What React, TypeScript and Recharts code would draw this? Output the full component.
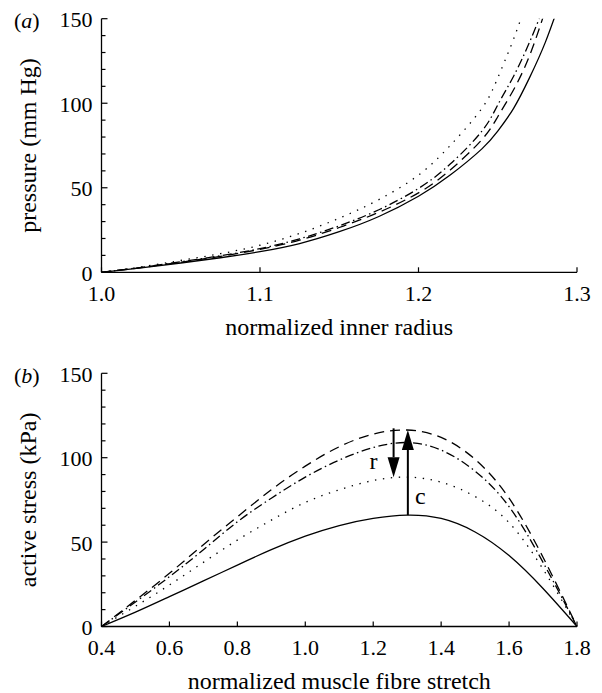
import { LineChart, Line, XAxis, YAxis, ReferenceLine, Label } from "recharts";

const FONT = "'Times New Roman', 'Liberation Serif', Tinos, serif";

// (a) pressure against normalized inner radius
const radius = [1.0, 1.025, 1.05, 1.075, 1.1, 1.125, 1.15, 1.175, 1.2, 1.22, 1.24, 1.25, 1.26, 1.27, 1.28, 1.29];
const pressureSolid = [0, 2.6, 5.5, 8.6, 12.2, 17, 24, 33, 45, 57.5, 73, 83.5, 97, 115, 136, 162];
const pressureDashed = [0, 2.8, 6, 9.4, 13.6, 19, 26.5, 35.5, 47, 60.5, 78.5, 92, 108, 128, 155, 185];
const pressureDashDot = [0, 2.9, 6.2, 9.8, 14, 19.8, 27.5, 37, 49.6, 64, 83.5, 99, 116, 136, 160, 190];
const pressureDotted = [0, 3.2, 7, 11, 16, 23, 32, 43, 57.5, 75, 97, 115, 138, 165, 195, 230];
const radiusTicks = [1.0, 1.1, 1.2, 1.3];
const pressureTicks = [0, 10, 20, 30, 40, 50, 60, 70, 80, 90, 100, 110, 120, 130, 140, 150];

// (b) active stress against muscle fibre stretch
const stretch = [0.4, 0.5, 0.6, 0.7, 0.8, 0.9, 1.0, 1.1, 1.2, 1.3, 1.4, 1.5, 1.6, 1.7, 1.8];
const stressSolid = [0, 8.5, 17.7, 27, 36.4, 45.5, 53.5, 59.8, 64, 66, 64, 56, 42, 22.5, 0];
const stressDotted = [0, 12, 24.6, 38, 51.2, 63, 73.5, 81, 86.5, 88.5, 85.5, 77, 61.5, 34, 0];
const stressDashDot = [0, 14.5, 29.5, 45.5, 62, 76, 88.5, 98.6, 106, 109, 104.5, 92, 71, 38, 0];
const stressDashed = [0, 15.5, 31.5, 48.5, 65, 81, 95, 106.5, 114, 116.4, 112, 99, 76, 41, 0];
const stretchTicks = [0.4, 0.6, 0.8, 1.0, 1.2, 1.4, 1.6, 1.8];
const stressTicks = [0, 10, 20, 30, 40, 50, 60, 70, 80, 90, 100, 110, 120, 130, 140, 150];

// r: drop from the upper peak to the dotted peak; c: rise from the solid peak
const arrowNames = ["r", "c"];
const arrowStretch = [1.26, 1.302];
const arrowFrom = [117.4, 66];
const arrowTo = [88.4, 116.4];

const pressureData = radius.map((r, i) => ({
  r,
  solid: pressureSolid[i],
  dashed: pressureDashed[i],
  dashDot: pressureDashDot[i],
  dotted: pressureDotted[i],
}));

const stressData = stretch.map((s, i) => ({
  s,
  solid: stressSolid[i],
  dashed: stressDashed[i],
  dashDot: stressDashDot[i],
  dotted: stressDotted[i],
}));

const TICK_MARGIN = 9;

function YTick({ x, y, payload }: any) {
  const axisX = x + TICK_MARGIN;
  const major = payload.value % 50 === 0;
  return (
    <g>
      <line x1={axisX} x2={axisX + (major ? 6 : 4)} y1={y} y2={y} stroke="#000" strokeWidth={1.2} />
      {major && (
        <text x={axisX - 9} y={y + 8.5} textAnchor="end" fontFamily={FONT} fontSize={22} fill="#000">
          {payload.value}
        </text>
      )}
    </g>
  );
}

function XTick({ x, y, payload }: any) {
  const axisY = y - TICK_MARGIN;
  return (
    <g>
      <line x1={x} x2={x} y1={axisY} y2={axisY - 5} stroke="#000" strokeWidth={1.2} />
      <text x={x} y={axisY + 28.3} textAnchor="middle" fontFamily={FONT} fontSize={22} fill="#000">
        {Number(payload.value).toFixed(1)}
      </text>
    </g>
  );
}

function XTitle({ viewBox, text }: any) {
  const vb = viewBox || {};
  return (
    <text x={vb.x + vb.width / 2} y={vb.y + 62.5} textAnchor="middle" fontFamily={FONT} fontSize={24} fill="#000">
      {text}
    </text>
  );
}

function YTitle({ viewBox, text, panel }: any) {
  const vb = viewBox || {};
  const cy = vb.y + vb.height / 2;
  return (
    <g>
      <text x={36} y={cy} textAnchor="middle" transform={`rotate(-90 36 ${cy})`} fontFamily={FONT} fontSize={24} fill="#000">
        {text}
      </text>
      <text x={14} y={vb.y + 9.3} fontFamily={FONT} fontSize={22} fill="#000">
        (<tspan fontStyle="italic">{panel}</tspan>)
      </text>
    </g>
  );
}

function Arrow(props: any) {
  const { x1, y1, x2, y2, tag } = props;
  const dir = y2 > y1 ? 1 : -1;
  const headLen = 20;
  const half = 6;
  const baseY = y2 - dir * headLen;
  const lx = tag === "r" ? x1 - 20 : x1 + 12.5;
  const ly = tag === "r" ? (y1 + y2) / 2 + 16 : y1 - 11.3;
  return (
    <g>
      <line x1={x1} y1={y1} x2={x2} y2={baseY} stroke="#000" strokeWidth={2} />
      <polygon points={`${x2 - half},${baseY} ${x2 + half},${baseY} ${x2},${y2}`} fill="#000" />
      <text x={lx} y={ly} textAnchor="middle" fontFamily={FONT} fontSize={24} fill="#000">
        {tag}
      </text>
    </g>
  );
}

const lineStyles = [
  { key: "solid", dash: undefined },
  { key: "dashed", dash: "10 6" },
  { key: "dashDot", dash: "9 3.5 1.5 3.5" },
  { key: "dotted", dash: "1.4 6.6" },
];

function curves() {
  return lineStyles.map((l) => (
    <Line
      key={l.key}
      dataKey={l.key}
      type="natural"
      stroke="#000"
      strokeWidth={1.3}
      strokeDasharray={l.dash}
      dot={false}
      activeDot={false}
      isAnimationActive={false}
    />
  ));
}

export default function App() {
  return (
    <div style={{ position: "absolute", left: 0, top: 0, width: 602, height: 693, background: "#fff", fontFamily: FONT }}>
      <div style={{ position: "absolute", left: 0, top: 0 }}>
        <LineChart width={602} height={345} data={pressureData} margin={{ top: 18.7, right: 25, bottom: 12.7, left: 41.5 }}>
          <XAxis
            dataKey="r"
            type="number"
            domain={[1.0, 1.3]}
            ticks={radiusTicks}
            interval={0}
            height={60}
            tickSize={0}
            tickMargin={TICK_MARGIN}
            tickLine={false}
            tick={<XTick />}
            axisLine={{ stroke: "#000", strokeWidth: 1.3 }}
          >
            <Label content={(p: any) => <XTitle viewBox={p.viewBox} text="normalized inner radius" />} />
          </XAxis>
          <YAxis
            type="number"
            domain={[0, 150]}
            allowDataOverflow
            ticks={pressureTicks}
            interval={0}
            width={60}
            tickSize={0}
            tickMargin={TICK_MARGIN}
            tickLine={false}
            tick={<YTick />}
            axisLine={{ stroke: "#000", strokeWidth: 1.3 }}
          >
            <Label content={(p: any) => <YTitle viewBox={p.viewBox} text="pressure (mm Hg)" panel="a" />} />
          </YAxis>
          {curves()}
        </LineChart>
      </div>
      <div style={{ position: "absolute", left: 0, top: 345 }}>
        <LineChart width={602} height={348} data={stressData} margin={{ top: 28.3, right: 25, bottom: 6.5, left: 41.5 }}>
          <XAxis
            dataKey="s"
            type="number"
            domain={[0.4, 1.8]}
            ticks={stretchTicks}
            interval={0}
            height={60}
            tickSize={0}
            tickMargin={TICK_MARGIN}
            tickLine={false}
            tick={<XTick />}
            axisLine={{ stroke: "#000", strokeWidth: 1.3 }}
          >
            <Label content={(p: any) => <XTitle viewBox={p.viewBox} text="normalized muscle fibre stretch" />} />
          </XAxis>
          <YAxis
            type="number"
            domain={[0, 150]}
            ticks={stressTicks}
            interval={0}
            width={60}
            tickSize={0}
            tickMargin={TICK_MARGIN}
            tickLine={false}
            tick={<YTick />}
            axisLine={{ stroke: "#000", strokeWidth: 1.3 }}
          >
            <Label content={(p: any) => <YTitle viewBox={p.viewBox} text="active stress (kPa)" panel="b" />} />
          </YAxis>
          {curves()}
          {arrowNames.map((name, i) => (
            <ReferenceLine
              key={name}
              segment={[
                { x: arrowStretch[i], y: arrowFrom[i] },
                { x: arrowStretch[i], y: arrowTo[i] },
              ]}
              shape={(p: any) => <Arrow {...p} tag={name} />}
            />
          ))}
        </LineChart>
      </div>
    </div>
  );
}
